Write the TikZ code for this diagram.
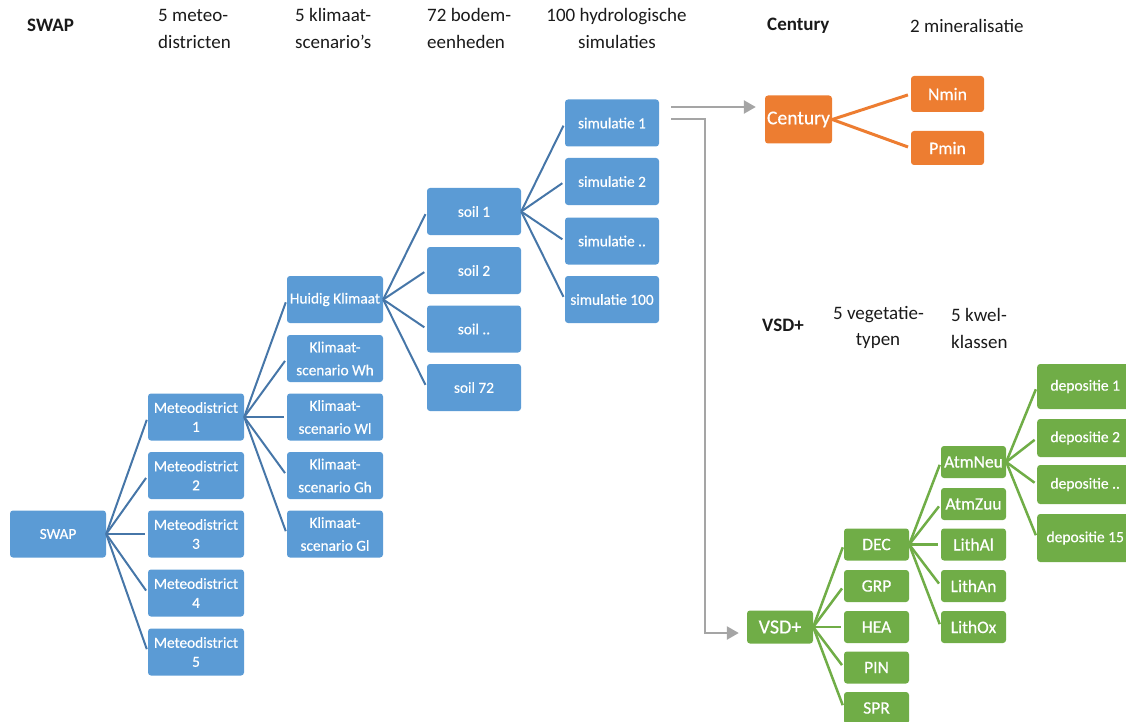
\documentclass[tikz,border=0pt]{standalone}
\usepackage{fontspec}
\setmainfont{Carlito}
\newfontfamily\boxfont{Carlito}[FakeBold=0.5]
\usetikzlibrary{arrows.meta,calc}
\definecolor{swapblue}{HTML}{5B9BD5}
\definecolor{swapline}{HTML}{4676A8}
\definecolor{centorange}{HTML}{ED7D31}
\definecolor{vsdgreen}{HTML}{70AD47}
\definecolor{flowgrey}{HTML}{A5A5A5}
\definecolor{hdrtext}{HTML}{1A1A1A}

\begin{document}
\begin{tikzpicture}[x=1pt,y=-1pt,
  box/.style={rounded corners=3pt, text=white, align=center, inner sep=0pt, draw=none},
  bbox/.style={box, fill=swapblue, font=\boxfont\fontsize{15.3}{19}\selectfont,
    minimum width=96pt, minimum height=47pt},
  kbox/.style={bbox, font=\boxfont\fontsize{15.3}{23}\selectfont},
  sbox/.style={bbox, minimum width=94pt},
  gbox/.style={box, fill=vsdgreen, font=\boxfont\fontsize{17.5}{20}\selectfont,
    minimum width=65pt, minimum height=32pt},
  dbox/.style={box, fill=vsdgreen, font=\boxfont\fontsize{15.5}{19}\selectfont,
    minimum width=96pt, anchor=west},
  obox/.style={box, fill=centorange, font=\boxfont\fontsize{17.7}{20}\selectfont,
    minimum width=73pt},
  bline/.style={draw=swapline, line width=2pt, shorten >=3pt},
  gline/.style={draw=vsdgreen, line width=2.5pt, shorten >=3pt},
  oline/.style={draw=centorange, line width=3pt, shorten >=3pt},
  garrow/.style={draw=flowgrey, line width=2.5pt,
    -{Triangle[length=12pt,width=13pt]}},
  hdr/.style={text=hdrtext, inner sep=0pt, font=\fontsize{19}{27}\selectfont},
  hdrb/.style={hdr, font=\fontsize{19}{27}\selectfont\bfseries},
]
\useasboundingbox (0,0) rectangle (1126,722);

% ---- column headings ----
\node[hdrb, anchor=base west] (hswap) at (27,32) {SWAP};
\node[hdr, anchor=base west] (hmetA) at (158,21.5) {5 meteo-};
\node[hdr, anchor=base west] (hmetB) at (158,49) {districten};
\node[hdr, anchor=base west] (hkliA) at (295,21.5) {5 klimaat-};
\node[hdr, anchor=base west] (hkliB) at (295,49) {scenario’s};
\node[hdr, anchor=base west] (hbodA) at (427,21.5) {72 bodem-};
\node[hdr, anchor=base west] (hbodB) at (427,49) {eenheden};
\node[hdr, anchor=base] (hsimA) at (616.5,21.5) {100 hydrologische};
\node[hdr, anchor=base] (hsimB) at (617,49) {simulaties};
\node[hdrb, anchor=base west] (hcent) at (767,31) {Century};
\node[hdr, anchor=base west] (hmin) at (910,33) {2 mineralisatie};
\node[hdrb, anchor=base west] (hvsd) at (762,331) {VSD+};
\node[hdr, anchor=base] (hvegA) at (878.5,319) {5 vegetatie-};
\node[hdr, anchor=base] (hvegB) at (878,345.5) {typen};
\node[hdr, anchor=base west] (hkwA) at (951,321) {5 kwel-};
\node[hdr, anchor=base west] (hkwB) at (951,348.5) {klassen};

% ---- SWAP tree ----
\node[bbox] (swap) at (58,534) {SWAP};
\foreach \i/\y in {1/417,2/475.5,3/534,4/593,5/652}
  \node[bbox] (m\i) at (196,\y) {Meteodistrict\\\i};

\node[bbox] (k1) at (335,299.5) {Huidig Klimaat};
\node[kbox] (k2) at (335,358.5) {Klimaat-\\scenario Wh};
\node[kbox] (k3) at (335,417) {Klimaat-\\scenario Wl};
\node[kbox] (k4) at (335,475.5) {Klimaat-\\scenario Gh};
\node[kbox] (k5) at (335,534) {Klimaat-\\scenario Gl};

\node[sbox] (s1) at (474,211.5) {soil 1};
\node[sbox] (s2) at (474,270.5) {soil 2};
\node[sbox] (s3) at (474,329) {soil ..};
\node[sbox] (s4) at (474,387.5) {soil 72};

\node[sbox] (sim1) at (612,123) {simulatie 1};
\node[sbox] (sim2) at (612,181.5) {simulatie 2};
\node[sbox] (sim3) at (612,241) {simulatie ..};
\node[sbox] (sim4) at (612,299.5) {simulatie 100};

\foreach \i in {1,...,5} \draw[bline] (swap.east) -- (m\i.west);
\foreach \i in {1,...,5} \draw[bline] (m1.east) -- (k\i.west);
\foreach \i in {1,...,4} \draw[bline] (k1.east) -- (s\i.west);
\foreach \i in {1,...,4} \draw[bline] (s1.east) -- (sim\i.west);

% ---- Century ----
\node[obox, minimum width=67pt, minimum height=48pt, font=\boxfont\fontsize{19.6}{22}\selectfont]
  (cent) at (798.5,119.5) {Century};
\node[obox, minimum height=36pt] (nmin) at (947.5,94) {Nmin};
\node[obox, minimum height=34pt] (pmin) at (947.5,148) {Pmin};
\draw[oline] (cent.east) -- (nmin.west);
\draw[oline] (cent.east) -- (pmin.west);

% ---- VSD+ tree ----
\node[gbox, minimum width=66pt, minimum height=33pt, font=\boxfont\fontsize{20}{22}\selectfont]
  (vsd) at (780,627) {VSD+};
\node[gbox] (v1) at (876.5,544.5) {DEC};
\node[gbox] (v2) at (876.5,586) {GRP};
\node[gbox] (v3) at (876.5,627) {HEA};
\node[gbox] (v4) at (876.5,667.5) {PIN};
\node[gbox] (v5) at (876.5,708) {SPR};

\node[gbox] (w1) at (973.5,462) {AtmNeu};
\node[gbox] (w2) at (973.5,504) {AtmZuu};
\node[gbox] (w3) at (973.5,544.5) {LithAl};
\node[gbox] (w4) at (973.5,586) {LithAn};
\node[gbox] (w5) at (973.5,627) {LithOx};

\node[dbox, minimum height=45pt] (d1) at (1037,386.5) {depositie 1};
\node[dbox, minimum height=38pt] (d2) at (1037,438) {depositie 2};
\node[dbox, minimum height=39pt] (d3) at (1037,484.5) {depositie ..};
\node[dbox, minimum height=48pt] (d4) at (1037,538) {depositie 15};

\foreach \i in {1,...,5} \draw[gline] (vsd.east) -- (v\i.west);
\foreach \i in {1,...,5} \draw[gline] (v1.east) -- (w\i.west);
\foreach \i in {1,...,4} \draw[gline] (w1.east) -- (d\i.west);

% ---- hand-over arrows ----
\coordinate (a1s) at (671,107);
\coordinate (a2s) at (671,119);
\coordinate (a2k) at (705,633);
\draw[garrow, shorten >=9pt] (a1s) -- (a1s -| cent.west);
\draw[garrow, shorten >=8pt] (a2s) -| (a2k) -- (a2k -| vsd.west);
\end{tikzpicture}
\end{document}
